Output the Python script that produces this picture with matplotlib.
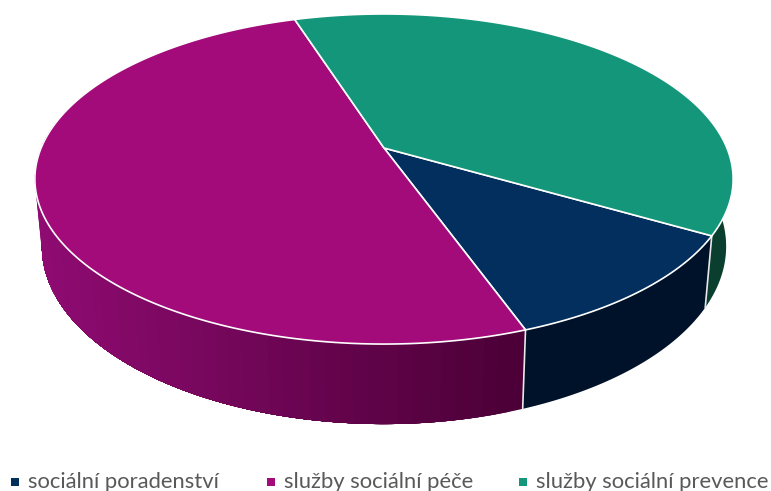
import numpy as np
import matplotlib
matplotlib.use('Agg')
import matplotlib.pyplot as plt
from matplotlib.patches import Polygon, Rectangle

# data (percent)
labels = ['sociální poradenství', 'služby sociální péče', 'služby sociální prevence']
values = [11.15, 50.55, 38.3]
top_colors = ['#032F5F', '#A30B7B', '#14967A']
first_angle = -30.0  # math degrees, slices go clockwise

# perspective of the disc, in pixels
x0, y0 = 384.0, 148.0
a, b, k = 342.9, 159.2, 0.188
depth = 65.0
shrink = 0.98


def rim(deg):
    t = np.deg2rad(deg)
    u, v = np.cos(t), np.sin(t)
    w = 1 + k * v
    return x0 + a * u / w, y0 - b * v / w


def lower_rim(deg):
    t = np.deg2rad(deg)
    x, y = rim(deg)
    return x0 + (x - x0) * shrink, y + depth / (1 + k * np.sin(t))


def wall(start, end, col):
    arc = np.linspace(start, end, 80)
    xs, ys = rim(arc)
    xl, yl = lower_rim(arc[::-1])
    pts = list(zip(xs, ys)) + list(zip(xl, yl))
    ax.add_patch(Polygon(pts, closed=True, facecolor=col, edgecolor='none', zorder=2))


def magenta_shade(x):
    # magenta wall gets darker to the right
    f = np.clip((x - 40) / 480, 0, 1)
    c0 = np.array(matplotlib.colors.to_rgb('#8F0B72'))
    c1 = np.array(matplotlib.colors.to_rgb('#4C0037'))
    return tuple(c0 + (c1 - c0) * f)


fig = plt.figure(figsize=(7.71, 4.91), dpi=100)
ax = fig.add_axes([0, 0, 1, 1])
ax.set_xlim(0, 771)
ax.set_ylim(491, 0)
ax.axis('off')

spans = np.array(values) / sum(values) * 360
starts = first_angle - np.concatenate([[0], np.cumsum(spans)[:-1]])

# walls, only the part of each slice that faces the viewer
wall(starts[0] + 40, starts[0], '#0A3F30')
wall(starts[0], starts[1], '#001229')
# pieces overlap up to the left end so no white shows through between them
left_end = -190.0
for p in np.arange(starts[1], left_end, -2.0):
    wall(p, left_end, magenta_shade(rim(p)[0]))

# seams on the wall
for s in starts[:2]:
    xa, ya = rim(s)
    xb, yb = lower_rim(s)
    ax.plot([xa, xb], [ya, yb], color='#E8E8E8', lw=1.2, zorder=3)

# top of the pie
for i in range(3):
    angs = np.linspace(starts[i], starts[i] - spans[i], 200)
    xs, ys = rim(angs)
    pts = [(x0, y0)] + list(zip(xs, ys))
    ax.add_patch(Polygon(pts, closed=True, facecolor=top_colors[i], edgecolor='white',
                         lw=1.2, joinstyle='round', zorder=4))

# legend
legend_sq = [11, 267, 519]
legend_tx = [28, 284, 536]
for i in range(3):
    ax.add_patch(Rectangle((legend_sq[i], 478), 8, 8, facecolor=top_colors[i],
                           edgecolor='none', zorder=5))
    ax.text(legend_tx[i], 488, labels[i], fontsize=15.8, family='Lato', color='#595959',
            ha='left', va='baseline', zorder=5)

fig.savefig('out.png', dpi=100)
